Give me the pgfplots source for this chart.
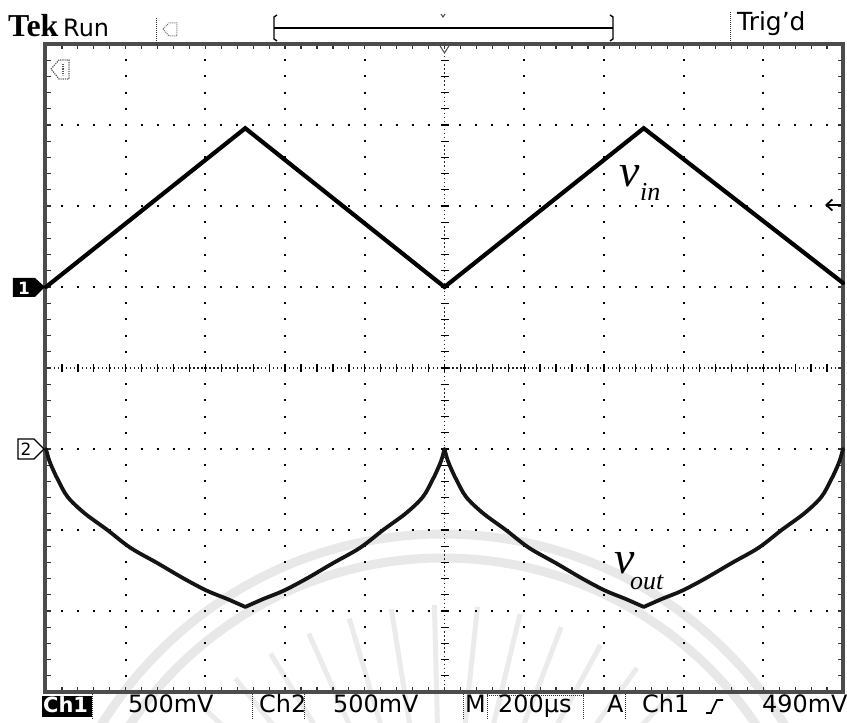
\documentclass[border=0pt]{standalone}
\usepackage{pgfplots}
\pgfplotsset{compat=1.18}
\usepackage{fontspec}
\setmainfont{DejaVu Sans}
\newfontfamily\seriffont{Liberation Serif}
\usetikzlibrary{calc,arrows.meta}

\begin{document}
\begin{tikzpicture}
\useasboundingbox (-43bp,-31bp) rectangle (804bp,692bp);

% screen furniture, laid out in screen pixels (origin top left, y down)
\begin{scope}[shift={(-43bp,692bp)}, x=1bp, y=-1bp]
  % faint watermark behind the traces
  \draw[black!9, line width=9bp] (443,935) circle[radius=401];
  \draw[black!9, line width=9bp] (443,935) circle[radius=377];
  \foreach \a in {24,31.5,...,156}
    \draw[black!8, line width=5bp] ($(443,935)+(-\a:190)$) -- ($(443,935)+(-\a:330)$);

  % graticule: dotted division lines (10 x 8 divisions)
  \foreach \i in {1,2,3,4,6,7,8,9}
    \draw[black, line width=2bp, dash pattern=on 2bp off 14.2bp, dash phase=1bp]
      ({46+79.7*\i},44) -- ({46+79.7*\i},692);
  \foreach \j in {1,2,3,5,6,7}
    \draw[black, line width=2bp, dash pattern=on 2bp off 13.94bp, dash phase=1bp]
      (46,{44+81*\j}) -- (843,{44+81*\j});
  % centre axes with minor ticks
  \draw[black!85, line width=1.3bp, dash pattern=on 1.3bp off 2.685bp] (46,368) -- (843,368);
  \draw[black!85, line width=1.3bp, dash pattern=on 1.3bp off 2.75bp] (444.5,44) -- (444.5,692);
  \foreach \k in {1,...,49}
    \draw[black, line width=1.3bp] ({46+15.94*\k},364) -- ({46+15.94*\k},372);
  \foreach \k in {1,...,39}
    \draw[black, line width=1.3bp] (440.5,{44+16.2*\k}) -- (448.5,{44+16.2*\k});
  % edge ticks
  \foreach \k in {1,...,49} {
    \draw[black!80, line width=1.2bp] ({46+15.94*\k},44) -- ({46+15.94*\k},49);
    \draw[black!80, line width=1.2bp] ({46+15.94*\k},692) -- ({46+15.94*\k},687);
  }
  \foreach \k in {1,...,39} {
    \draw[black!80, line width=1.2bp] (46,{44+16.2*\k}) -- (51,{44+16.2*\k});
    \draw[black!80, line width=1.2bp] (843,{44+16.2*\k}) -- (838,{44+16.2*\k});
  }
  % screen border
  \draw[black!70, line width=3.2bp] (45,44) rectangle (843,692);
\end{scope}

\begin{axis}[at={(3bp,0)}, anchor=south west, scale only axis,
  width=797bp, height=648bp,
  xmin=0, xmax=10, ymin=-4, ymax=4,
  axis lines=none, ticks=none, clip=false]
  % channel 1: triangle input
  \addplot[black, line width=4.2bp, line join=miter, line cap=round]
    coordinates {(0,1.0) (2.5,2.96) (5,1.0) (7.5,2.96) (10,1.05)};
  % channel 2: output, one branch per half period
  \pgfplotsset{vout/.style={black!92, line width=3.8bp, line cap=round, smooth, tension=0.55}}
  \addplot[vout] coordinates {
    (0.00,-1.00) (0.04,-1.14) (0.10,-1.28) (0.15,-1.38) (0.27,-1.59) (0.48,-1.79)
    (0.77,-2.00) (1.06,-2.22) (1.40,-2.41) (1.73,-2.60) (2.02,-2.75) (2.27,-2.85)
    (2.50,-2.95)};
  \addplot[vout] coordinates {
    (2.50,-2.95) (2.73,-2.85) (2.98,-2.75) (3.27,-2.60) (3.60,-2.41) (3.94,-2.22)
    (4.23,-2.00) (4.52,-1.79) (4.73,-1.59) (4.85,-1.38) (4.90,-1.28) (4.96,-1.14)
    (5.00,-1.00)};
  \addplot[vout] coordinates {
    (5.00,-1.00) (5.04,-1.14) (5.10,-1.28) (5.15,-1.38) (5.27,-1.59) (5.48,-1.79)
    (5.77,-2.00) (6.06,-2.22) (6.40,-2.41) (6.73,-2.60) (7.02,-2.75) (7.27,-2.85)
    (7.50,-2.95)};
  \addplot[vout] coordinates {
    (7.50,-2.95) (7.73,-2.85) (7.98,-2.75) (8.27,-2.60) (8.60,-2.41) (8.94,-2.22)
    (9.23,-2.00) (9.52,-1.79) (9.73,-1.59) (9.85,-1.38) (9.90,-1.28) (9.96,-1.14)
    (10.00,-1.00)};
\end{axis}

\begin{scope}[shift={(-43bp,692bp)}, x=1bp, y=-1bp]
  % trace labels
  \node[anchor=base west, inner sep=0pt, font=\seriffont\itshape\fontsize{46}{46}\selectfont] at (619,187) {v};
  \node[anchor=base west, inner sep=0pt, font=\seriffont\itshape\fontsize{26}{26}\selectfont] at (640,201) {in};
  \node[anchor=base west, inner sep=0pt, font=\seriffont\itshape\fontsize{46}{46}\selectfont] at (614,574) {v};
  \node[anchor=base west, inner sep=0pt, font=\seriffont\itshape\fontsize{26}{26}\selectfont] at (630,590) {out};

  % channel ground markers
  \fill[black] (13,278) -- (35,278) -- (45,287) -- (35,297) -- (13,297) -- cycle;
  \node[text=white, font=\bfseries\fontsize{17}{17}\selectfont, inner sep=0pt] at (24,288) {1};
  \draw[black, line width=1.3bp, fill=white] (18,439) -- (34,439) -- (44,449) -- (34,459) -- (18,459) -- cycle;
  \node[font=\fontsize{17}{17}\selectfont, inner sep=0pt] at (26,449) {2};

  % trigger position and level markers
  \draw[black!70, line width=1bp] (439.5,45) -- (449.5,45) -- (444.5,53) -- cycle;
  \draw[black, line width=1.8bp, -{Straight Barb[length=6bp,width=11bp]}] (841,205) -- (825,205);
  % trigger source icon
  \draw[black!65, line width=1.2bp, densely dotted] (51,69) -- (59,60) -- (69,60) -- (69,79) -- (59,79) -- cycle;
  \draw[black!65, line width=1.2bp, densely dotted] (63,64) -- (63,75);

  % top status line
  \node[anchor=base west, inner sep=0pt, font=\seriffont\bfseries\fontsize{32}{32}\selectfont] at (8,37) {Tek};
  \node[anchor=base west, inner sep=0pt, font=\fontsize{24}{24}\selectfont] at (63,37) {Run};
  \draw[black!80, line width=1bp, densely dotted] (157,18) -- (157,44);
  \draw[black!60, line width=1bp, densely dotted] (163,29) -- (169,23) -- (177,23) -- (177,36) -- (169,36) -- cycle;
  \draw[black, line width=1.4bp] (277,15) -- (274,17) -- (274,39) -- (277,41);
  \draw[black, line width=1.6bp] (274,28) -- (613,28);
  \draw[black, line width=1.4bp] (610,15) -- (613,17) -- (613,39) -- (610,41);
  \draw[black!70, line width=1bp] (441,14) -- (443,17) -- (445,14);
  \draw[black!80, line width=1bp, densely dotted] (730,12) -- (730,44);
  \node[anchor=base west, inner sep=0pt, font=\fontsize{25}{25}\selectfont] at (737,31) {Trig'd};

  % bottom status line
  \fill[black] (42,696) rectangle (92,717);
  \node[anchor=base west, inner sep=0pt, text=white, font=\bfseries\fontsize{21}{21}\selectfont] at (43,713) {Ch1};
  \foreach \xs in {93,253,305,463,487,583,625}
    \draw[black!80, line width=1bp, densely dotted] (\xs,694) -- (\xs,719);
  \draw[black!80, line width=1bp, densely dotted] (487,696) -- (583,696);
  \node[anchor=base west, inner sep=0pt, font=\fontsize{24}{24}\selectfont] at (128,713) {500mV};
  \node[anchor=base west, inner sep=0pt, font=\fontsize{24}{24}\selectfont] at (259,713) {Ch2};
  \node[anchor=base west, inner sep=0pt, font=\fontsize{24}{24}\selectfont] at (333,713) {500mV};
  \node[anchor=base west, inner sep=0pt, font=\fontsize{24}{24}\selectfont] at (465,713) {M};
  \node[anchor=base west, inner sep=0pt, font=\fontsize{24}{24}\selectfont] at (498,713) {200µs};
  \node[anchor=base west, inner sep=0pt, font=\fontsize{24}{24}\selectfont] at (607,713) {A};
  \node[anchor=base west, inner sep=0pt, font=\fontsize{24}{24}\selectfont] at (642,713) {Ch1};
  \draw[black, line width=1.8bp] (706,713) -- (711,713) -- (717,700) -- (723,700);
  \node[anchor=base west, inner sep=0pt, font=\fontsize{24}{24}\selectfont] at (762,713) {490mV};
\end{scope}
\end{tikzpicture}
\end{document}
